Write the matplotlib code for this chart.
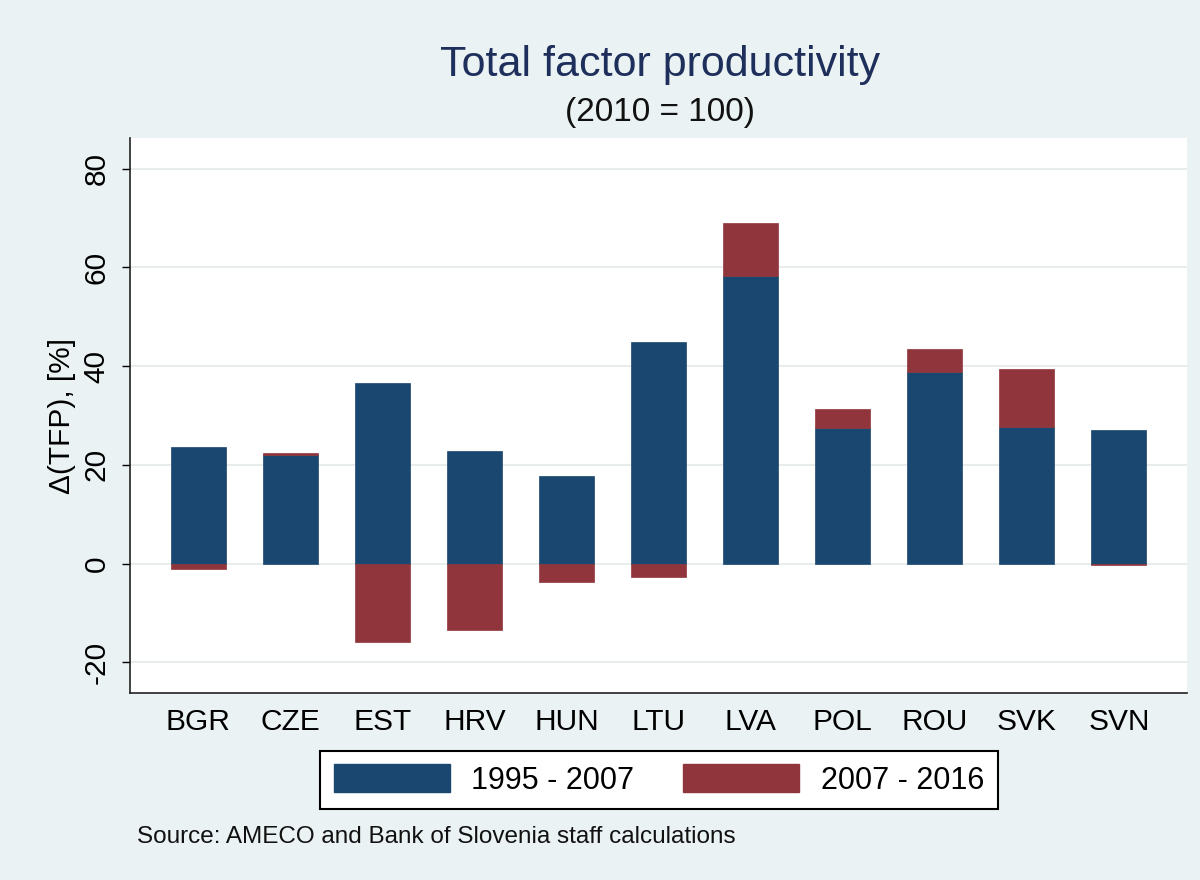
import numpy as np
import matplotlib
matplotlib.use("Agg")
import matplotlib.pyplot as plt
from matplotlib.patches import Patch

categories = ["BGR", "CZE", "EST", "HRV", "HUN", "LTU", "LVA", "POL", "ROU", "SVK", "SVN"]
tfp_1995_2007 = [23.7, 22.1, 36.5, 22.9, 17.8, 44.8, 58.2, 27.4, 38.9, 27.6, 27.0]
tfp_2007_2016 = [-1.0, 0.4, -15.8, -13.4, -3.7, -2.8, 10.8, 4.0, 4.5, 11.8, -0.2]
series_labels = ["1995 - 2007", "2007 - 2016"]
yticks = [-20, 0, 20, 40, 60, 80]

NAVY = "#1a476f"
MAROON = "#90353b"
BG = "#eaf2f3"

plt.rcParams['font.family'] = ['Liberation Sans', 'DejaVu Sans']

fig = plt.figure(figsize=(12, 8.8), dpi=100, facecolor=BG)
ax = fig.add_axes([130/1200, 1-693/880, (1187-130)/1200, (693-138)/880])
ax.set_facecolor("white")

x = np.arange(len(categories))
v1 = np.array(tfp_1995_2007)
v2 = np.array(tfp_2007_2016)
bottom2 = np.where(v2 >= 0, v1, 0)

ax.bar(x, v1, width=0.6, color=NAVY, edgecolor=NAVY, linewidth=0.5, zorder=3)
ax.bar(x, v2, width=0.6, bottom=bottom2, color=MAROON, edgecolor=MAROON, linewidth=0.5, zorder=3)

ax.set_xlim(-0.74, len(categories) - 1 + 0.74)
ax.set_ylim(-26.2, 86.2)
ax.set_yticks(yticks)
ax.set_yticklabels([str(t) for t in yticks], rotation=90, va='center', fontsize=21.5)
ax.set_xticks(x)
ax.set_xticklabels(categories, fontsize=21.5)
ax.tick_params(axis='x', length=0, pad=11)
ax.tick_params(axis='y', length=6, width=1, pad=8, color='black')
ax.yaxis.grid(True, color="#e8eced", linewidth=1.5, zorder=0)
ax.set_axisbelow(True)

for s in ["top", "right"]:
    ax.spines[s].set_visible(False)
for s in ["left", "bottom"]:
    ax.spines[s].set_linewidth(1.2)
    ax.spines[s].set_color("#222222")

ax.set_ylabel("Δ(TFP), [%]", fontsize=21.5, labelpad=5)

fig.text(660/1200, 1-65/880, "Total factor productivity", ha='center', va='center',
         fontsize=31, color="#1f2f5c")
fig.text(660/1200, 1-112/880, "(2010 = 100)", ha='center', va='center',
         fontsize=24, color="#111111")

handles = [Patch(facecolor=NAVY, edgecolor=NAVY), Patch(facecolor=MAROON, edgecolor=MAROON)]
leg = fig.legend(handles, series_labels, loc='center', bbox_to_anchor=(659/1200, 1-780/880),
                 ncol=2, fontsize=22, frameon=True, fancybox=False, edgecolor='black',
                 handlelength=3.8, handleheight=1.0, handletextpad=0.7, columnspacing=1.6,
                 borderpad=0.45)
leg.get_frame().set_linewidth(1.5)
leg.get_frame().set_facecolor('white')
leg.get_frame().set_alpha(1.0)

fig.text(137/1200, 1-837/880, "Source: AMECO and Bank of Slovenia staff calculations",
         ha='left', va='center', fontsize=17.5, color="#111111")

fig.savefig("out.png", dpi=100, facecolor=BG)
